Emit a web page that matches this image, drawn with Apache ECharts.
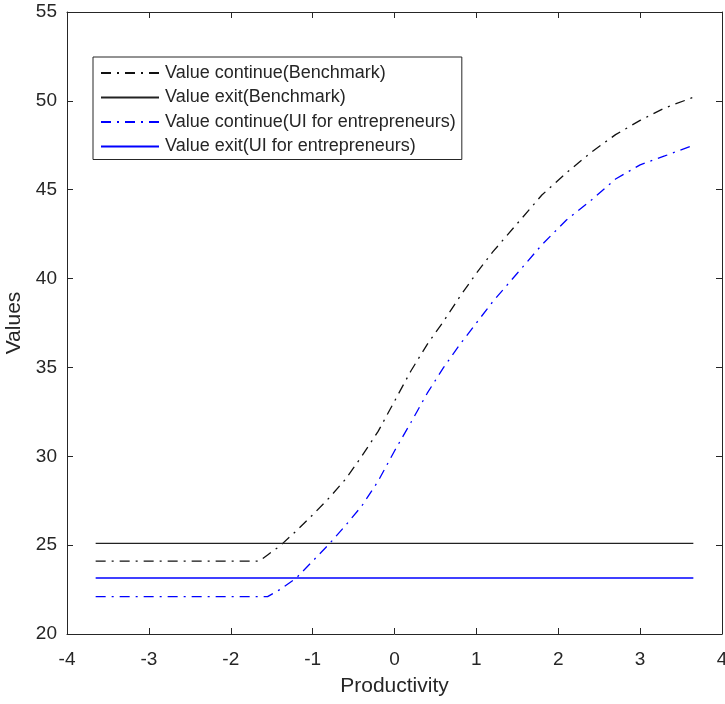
<!DOCTYPE html>
<html>
<head>
<meta charset="utf-8">
<script src="https://cdn.jsdelivr.net/npm/echarts@6/dist/echarts.min.js"></script>
<style>
html,body{margin:0;padding:0;background:#fff;}
#c{width:725px;height:704px;}
</style>
</head>
<body>
<div id="c"></div>
<script>
// Productivity grid
const xs = [-3.65, -3.0, -2.5, -2.0, -1.65, -1.55, -1.4, -1.2, -1.0, -0.8, -0.6, -0.4, -0.2, 0, 0.2, 0.4, 0.6, 0.8, 1.0, 1.2, 1.5, 1.8, 2.1, 2.4, 2.7, 3.0, 3.3, 3.65];
// Value continue (Benchmark)
const continueBenchmark = [24.1, 24.1, 24.1, 24.1, 24.1, 24.45, 24.95, 25.8, 26.7, 27.65, 28.7, 30.0, 31.4, 33.1, 34.8, 36.3, 37.6, 39.0, 40.3, 41.5, 43.1, 44.7, 45.95, 47.1, 48.1, 48.9, 49.6, 50.2];
// Value continue (UI for entrepreneurs)
const continueUI = [22.1, 22.1, 22.1, 22.1, 22.1, 22.1, 22.5, 23.15, 24.1, 25.05, 26.1, 27.2, 28.6, 30.3, 31.9, 33.55, 35.0, 36.3, 37.5, 38.7, 40.3, 41.9, 43.3, 44.4, 45.6, 46.4, 46.9, 47.5];
// Value exit lines (flat)
const exitX = [-3.65, 3.65];
const exitBenchmark = [25.1, 25.1];
const exitUI = [23.15, 23.15];

const seriesNames = [
  'Value continue(Benchmark)',
  'Value exit(Benchmark)',
  'Value continue(UI for entrepreneurs)',
  'Value exit(UI for entrepreneurs)'
];
const xTicks = [-4, -3, -2, -1, 0, 1, 2, 3, 4];
const yTicks = [20, 25, 30, 35, 40, 45, 50, 55];

const pairs = (x, y) => x.map((v, i) => [v, y[i]]);
const FONT = '"Liberation Sans", Arial, Helvetica, sans-serif';
const AX = '#262626';
const dashDot = [10, 6, 2, 6];

const chart = echarts.init(document.getElementById('c'), null, {renderer: 'canvas'});

const baseX = {
  type: 'value', min: xTicks[0], max: xTicks[xTicks.length - 1], interval: 1,
  axisLine: {show: true, onZero: false, lineStyle: {color: AX, width: 1}},
  axisTick: {show: true, inside: true, length: 6, lineStyle: {color: AX}},
  splitLine: {show: false}
};
const baseY = {
  type: 'value', min: yTicks[0], max: yTicks[yTicks.length - 1], interval: 5,
  axisLine: {show: true, onZero: false, lineStyle: {color: AX, width: 1}},
  axisTick: {show: true, inside: true, length: 6, lineStyle: {color: AX}},
  splitLine: {show: false}
};

chart.setOption({
  backgroundColor: '#ffffff',
  animation: false,
  grid: {left: 67, top: 12, right: 3, bottom: 70, containLabel: false, outerBoundsMode: 'none'},
  xAxis: [
    Object.assign({}, baseX, {
      position: 'bottom',
      name: 'Productivity', nameLocation: 'middle', nameGap: 42,
      nameTextStyle: {fontFamily: FONT, fontSize: 21, color: AX},
      axisLabel: {show: true, margin: 16, fontFamily: FONT, fontSize: 19, color: AX}
    }),
    Object.assign({}, baseX, {position: 'top', axisLabel: {show: false}})
  ],
  yAxis: [
    Object.assign({}, baseY, {
      position: 'left',
      name: 'Values', nameLocation: 'middle', nameGap: 38,
      nameTextStyle: {fontFamily: FONT, fontSize: 21, color: AX},
      axisLabel: {show: true, margin: 10, fontFamily: FONT, fontSize: 19, color: AX}
    }),
    Object.assign({}, baseY, {position: 'right', axisLabel: {show: false}})
  ],
  legend: {
    orient: 'vertical',
    left: 93, top: 57,
    padding: [7, 6, 4, 7],
    itemWidth: 58, itemHeight: 14, itemGap: 6.5,
    backgroundColor: '#ffffff',
    borderColor: AX, borderWidth: 1, borderRadius: 0,
    itemStyle: {opacity: 0},
    textStyle: {fontFamily: FONT, fontSize: 18, color: AX, padding: [0, 0, 0, 1]},
    data: seriesNames
  },
  series: [
    {
      name: seriesNames[0], type: 'line', data: pairs(xs, continueBenchmark),
      showSymbol: false, symbol: 'none', smooth: false,
      lineStyle: {color: '#111111', width: 1.3, type: dashDot}, itemStyle: {color: '#111111'}
    },
    {
      name: seriesNames[1], type: 'line', data: pairs(exitX, exitBenchmark),
      showSymbol: false, symbol: 'none',
      lineStyle: {color: '#222222', width: 1.3, type: 'solid'}, itemStyle: {color: '#222222'}
    },
    {
      name: seriesNames[2], type: 'line', data: pairs(xs, continueUI),
      showSymbol: false, symbol: 'none', smooth: false,
      lineStyle: {color: '#0000ff', width: 1.3, type: dashDot}, itemStyle: {color: '#0000ff'}
    },
    {
      name: seriesNames[3], type: 'line', data: pairs(exitX, exitUI),
      showSymbol: false, symbol: 'none',
      lineStyle: {color: '#0000ff', width: 1.3, type: 'solid'}, itemStyle: {color: '#0000ff'}
    }
  ]
});
</script>
</body>
</html>
